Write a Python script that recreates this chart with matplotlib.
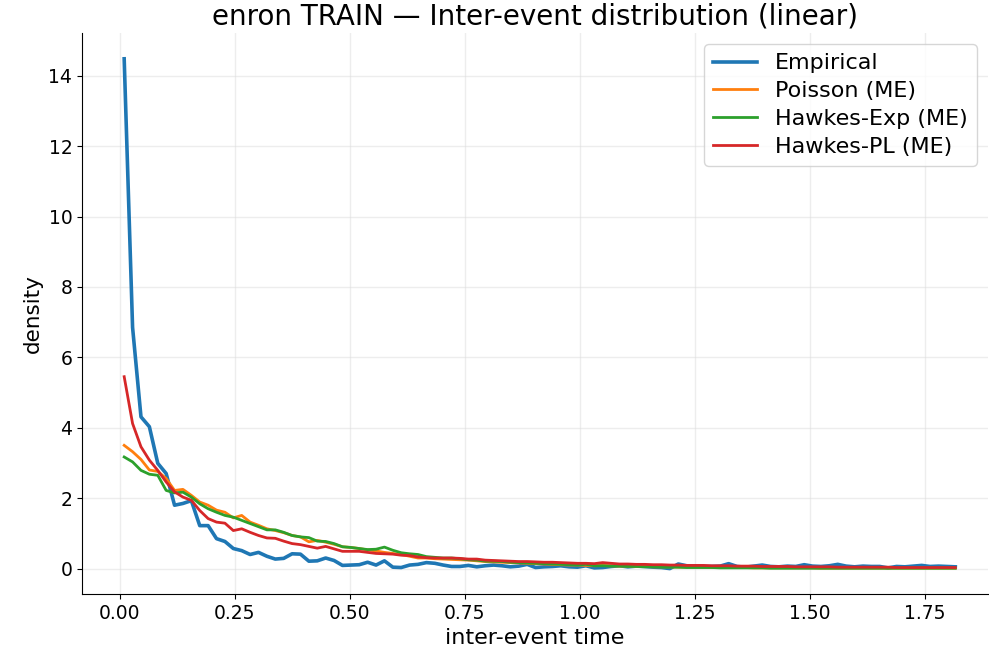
import numpy as np
import matplotlib
matplotlib.use("Agg")
import matplotlib.pyplot as plt

n_bins = 100
bin_width = 0.01825
x = (np.arange(n_bins) + 0.5) * bin_width

empirical = [
    14.48, 6.85, 4.31, 4.03, 2.99, 2.70, 1.80, 1.85, 1.93, 1.22,
    1.22, 0.85, 0.77, 0.57, 0.51, 0.40, 0.46, 0.35, 0.27, 0.29,
    0.42, 0.41, 0.21, 0.22, 0.30, 0.23, 0.09, 0.10, 0.11, 0.18,
    0.10, 0.22, 0.04, 0.03, 0.10, 0.12, 0.17, 0.15, 0.10, 0.06,
    0.06, 0.09, 0.05, 0.08, 0.10, 0.08, 0.05, 0.07, 0.12, 0.03,
    0.05, 0.06, 0.08, 0.05, 0.04, 0.08, 0.02, 0.03, 0.06, 0.08,
    0.05, 0.07, 0.06, 0.04, 0.03, 0.00, 0.13, 0.08, 0.07, 0.06,
    0.06, 0.07, 0.14, 0.06, 0.04, 0.07, 0.10, 0.06, 0.05, 0.07,
    0.06, 0.11, 0.07, 0.06, 0.08, 0.12, 0.07, 0.05, 0.07, 0.06,
    0.06, 0.02, 0.06, 0.05, 0.07, 0.09, 0.06, 0.07, 0.06, 0.05,
]

poisson = [
    3.50, 3.32, 3.10, 2.80, 2.76, 2.56, 2.22, 2.25, 2.08, 1.89,
    1.80, 1.66, 1.60, 1.44, 1.51, 1.32, 1.23, 1.13, 1.08, 1.02,
    0.94, 0.90, 0.76, 0.80, 0.75, 0.69, 0.62, 0.60, 0.57, 0.53,
    0.50, 0.46, 0.43, 0.40, 0.35, 0.30, 0.30, 0.28, 0.27, 0.26,
    0.25, 0.24, 0.22, 0.20, 0.19, 0.18, 0.17, 0.16, 0.15, 0.14,
    0.13, 0.12, 0.11, 0.10, 0.10, 0.09, 0.08, 0.09, 0.08, 0.07,
    0.07, 0.06, 0.06, 0.05, 0.05, 0.05, 0.04, 0.04, 0.04, 0.04,
    0.03, 0.03, 0.03, 0.03, 0.03, 0.02, 0.02, 0.02, 0.02, 0.02,
    0.02, 0.02, 0.02, 0.01, 0.01, 0.01, 0.01, 0.01, 0.01, 0.01,
    0.01, 0.01, 0.01, 0.01, 0.01, 0.01, 0.01, 0.01, 0.01, 0.01,
]

hawkes_exp = [
    3.17, 3.03, 2.79, 2.68, 2.65, 2.22, 2.15, 2.17, 2.03, 1.84,
    1.70, 1.60, 1.51, 1.46, 1.37, 1.28, 1.19, 1.10, 1.10, 1.03,
    0.94, 0.90, 0.88, 0.78, 0.77, 0.71, 0.62, 0.60, 0.57, 0.54,
    0.55, 0.61, 0.52, 0.45, 0.42, 0.40, 0.34, 0.32, 0.30, 0.30,
    0.28, 0.25, 0.24, 0.21, 0.21, 0.20, 0.18, 0.17, 0.16, 0.15,
    0.14, 0.13, 0.12, 0.11, 0.10, 0.12, 0.08, 0.08, 0.07, 0.07,
    0.06, 0.06, 0.05, 0.05, 0.04, 0.04, 0.04, 0.03, 0.03, 0.03,
    0.03, 0.02, 0.02, 0.02, 0.02, 0.02, 0.02, 0.01, 0.01, 0.01,
    0.01, 0.01, 0.01, 0.01, 0.01, 0.01, 0.01, 0.01, 0.01, 0.01,
    0.01, 0.01, 0.01, 0.01, 0.01, 0.01, 0.01, 0.01, 0.01, 0.01,
]

hawkes_pl = [
    5.45, 4.12, 3.46, 3.08, 2.79, 2.46, 2.18, 2.03, 1.94, 1.65,
    1.42, 1.32, 1.29, 1.08, 1.13, 1.03, 0.94, 0.87, 0.86, 0.78,
    0.71, 0.68, 0.63, 0.58, 0.63, 0.56, 0.49, 0.49, 0.49, 0.46,
    0.43, 0.42, 0.41, 0.38, 0.37, 0.33, 0.31, 0.30, 0.30, 0.30,
    0.29, 0.27, 0.27, 0.24, 0.23, 0.22, 0.21, 0.20, 0.20, 0.19,
    0.18, 0.18, 0.17, 0.16, 0.15, 0.15, 0.14, 0.17, 0.15, 0.13,
    0.13, 0.12, 0.12, 0.11, 0.11, 0.10, 0.10, 0.09, 0.09, 0.09,
    0.08, 0.08, 0.08, 0.07, 0.07, 0.07, 0.06, 0.06, 0.06, 0.06,
    0.05, 0.05, 0.05, 0.05, 0.05, 0.04, 0.04, 0.04, 0.04, 0.04,
    0.04, 0.04, 0.03, 0.03, 0.03, 0.03, 0.03, 0.03, 0.03, 0.03,
]

series = [
    ("Empirical", empirical, "#1f77b4", 2.6),
    ("Poisson (ME)", poisson, "#ff7f0e", 2.0),
    ("Hawkes-Exp (ME)", hawkes_exp, "#2ca02c", 2.0),
    ("Hawkes-PL (ME)", hawkes_pl, "#d62728", 2.0),
]

plt.rcParams["font.family"] = ["DejaVu Sans"]
fig = plt.figure(figsize=(9.89, 6.66), dpi=100)
ax = fig.add_axes([0.0829, 0.108, 0.9161, 0.842])

for label, vals, color, lw in series:
    ax.plot(x, vals, color=color, lw=lw, label=label)

ax.set_xlim(-0.0826, 1.887)
ax.set_title("enron TRAIN \u2014 Inter-event distribution (linear)", fontsize=20)
ax.set_xlabel("inter-event time", fontsize=16)
ax.set_ylabel("density", fontsize=15.5)
ax.tick_params(labelsize=13.5)
ax.grid(True, color="#dddddd", alpha=0.5, lw=1)
ax.spines["top"].set_visible(False)
ax.spines["right"].set_visible(False)
ax.legend(loc="upper right", fontsize=16, labelspacing=0.35)

fig.savefig("out.png", dpi=100)
